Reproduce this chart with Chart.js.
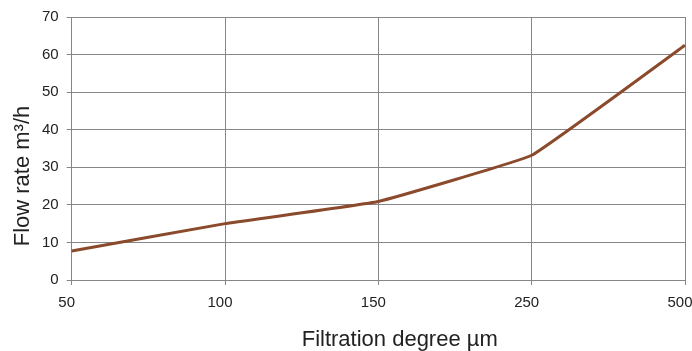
<!DOCTYPE html>
<html><head><meta charset="utf-8">
<script src="https://cdn.jsdelivr.net/npm/chart.js@4/dist/chart.umd.min.js"></script>
<style>html,body{margin:0;padding:0;background:#fff;}canvas{display:block;}</style>
</head><body>
<canvas id="c" width="692" height="351"></canvas>
<script>
const categories = ['50', '100', '150', '250', '500'];
const flowRate = [7.7, 15, 20.9, 33.2, 62.5];
const yTicks = [0, 10, 20, 30, 40, 50, 60, 70];

const gridColor = '#868686';
const textColor = '#222222';
const family = "'Liberation Sans', Arial, sans-serif";
const tickFont = {family: family, size: 15};
const titleFont = {family: family, size: 22, lineHeight: 1};
const NB = '\u00A0';

new Chart(document.getElementById('c'), {
  type: 'line',
  data: {
    labels: categories,
    datasets: [{
      data: flowRate,
      borderColor: '#8b4a2b',
      borderWidth: 3,
      pointRadius: 0,
      tension: 0.08,
      fill: false
    }]
  },
  options: {
    responsive: false,
    animation: false,
    plugins: {legend: {display: false}, tooltip: {enabled: false}},
    layout: {padding: {left: 12, top: 11, right: 0, bottom: 0}},
    scales: {
      x: {
        type: 'category',
        offset: false,
        grid: {color: gridColor, lineWidth: 1, tickLength: 5, drawTicks: true},
        border: {color: gridColor},
        ticks: {color: textColor, font: tickFont, padding: 9, labelOffset: -5, maxRotation: 0},
        title: {display: true, text: NB.repeat(7) + 'Filtration degree µm', color: textColor,
                font: titleFont, padding: {top: 8, bottom: 0}},
        afterFit: (s) => { s.paddingRight = 7; }
      },
      y: {
        min: 0, max: 70,
        afterBuildTicks: (s) => { s.ticks = yTicks.map(v => ({value: v})); },
        grid: {color: gridColor, lineWidth: 1, tickLength: 5},
        border: {color: gridColor},
        ticks: {color: textColor, font: tickFont, padding: 8},
        title: {display: true, text: 'Flow rate m³/h' + NB.repeat(9), color: textColor,
                font: titleFont, padding: {top: 0, bottom: 0}}
      }
    }
  }
});
</script>
</body></html>
